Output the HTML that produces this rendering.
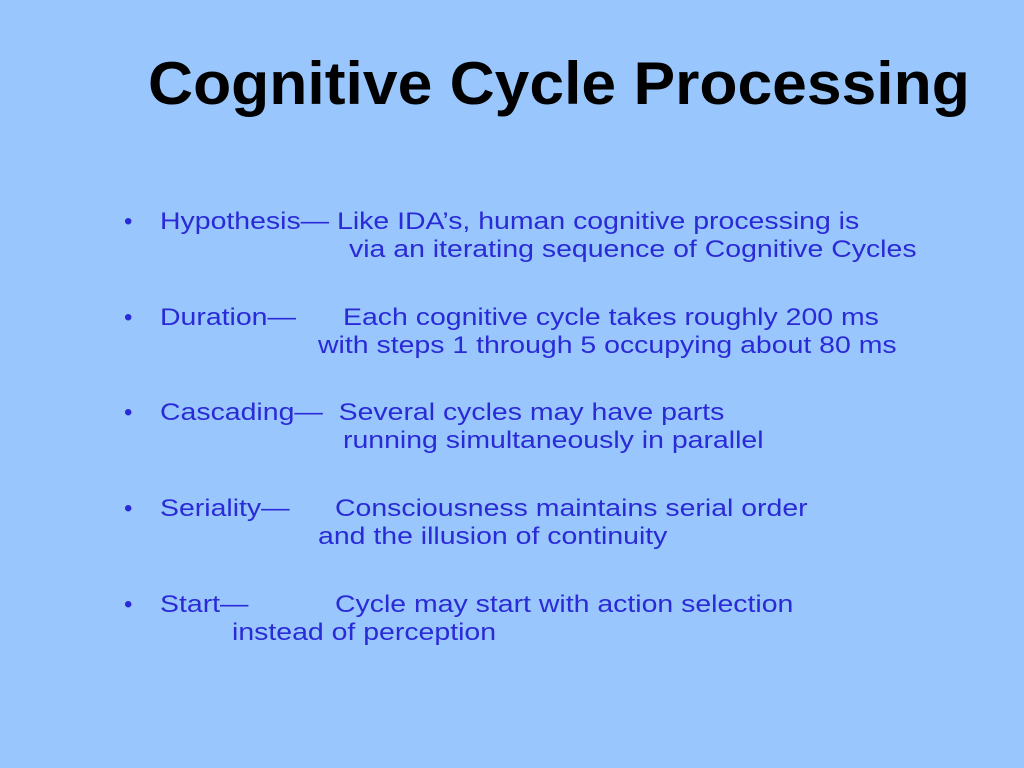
<!DOCTYPE html>
<html><head><meta charset="utf-8"><style>
html,body{margin:0;padding:0}
body{width:1024px;height:768px;background:#99c7fd;position:relative;overflow:hidden;font-family:"Liberation Sans",Arial,sans-serif}
.t{position:absolute;left:148px;top:49px;font-size:60px;font-weight:bold;color:#000;white-space:nowrap;transform:scaleX(1.04);transform-origin:left top}
.l{position:absolute;font-size:24px;color:#2a2ad6;white-space:nowrap;line-height:28px;transform:scaleX(1.185);transform-origin:left top}
.b{position:absolute;font-size:24px;color:#2a2ad6;left:124px}
</style></head><body>
<div class="t">Cognitive Cycle Processing</div>
<div class="b" style="top:208px">•</div>
<div class="l" style="left:160px;top:208px">Hypothesis— Like IDA’s, human cognitive processing is</div>
<div class="l" style="left:349px;top:236px">via an iterating sequence of Cognitive Cycles</div>
<div class="b" style="top:304px">•</div>
<div class="l" style="left:160px;top:304px">Duration—</div>
<div class="l" style="left:343px;top:304px">Each cognitive cycle takes roughly 200 ms</div>
<div class="l" style="left:318px;top:332px">with steps 1 through 5 occupying about 80 ms</div>
<div class="b" style="top:399px">•</div>
<div class="l" style="left:160px;top:399px">Cascading—&nbsp; Several cycles may have parts</div>
<div class="l" style="left:343px;top:427px">running simultaneously in parallel</div>
<div class="b" style="top:495px">•</div>
<div class="l" style="left:160px;top:495px">Seriality—</div>
<div class="l" style="left:335px;top:495px">Consciousness maintains serial order</div>
<div class="l" style="left:318px;top:523px">and the illusion of continuity</div>
<div class="b" style="top:591px">•</div>
<div class="l" style="left:160px;top:591px">Start—</div>
<div class="l" style="left:335px;top:591px">Cycle may start with action selection</div>
<div class="l" style="left:232px;top:619px">instead of perception</div>
</body></html>
